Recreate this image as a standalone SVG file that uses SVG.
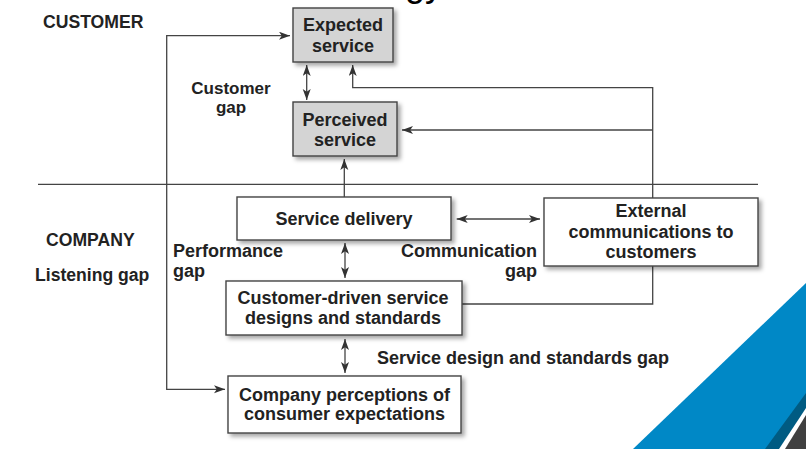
<svg xmlns="http://www.w3.org/2000/svg" width="806" height="449" viewBox="0 0 806 449">
<style>
text{font-family:"Liberation Sans",Arial,Helvetica,sans-serif;font-weight:bold;fill:#222;}
.t18{font-size:18px;}
.t17{font-size:17px;}
.t175{font-size:17.6px;}
.mid{text-anchor:middle;}
.end{text-anchor:end;}
.box{fill:#fff;stroke:#444;stroke-width:1.4;filter:url(#sh);}
.gbox{fill:#d4d4d4;stroke:#444;stroke-width:1.4;filter:url(#sh);}
.ln{fill:none;stroke:#444;stroke-width:1.3;}
.arr{marker-end:url(#ah);}
.dbl{marker-start:url(#ah);marker-end:url(#ah);}
</style>
<defs>
<filter id="sh" x="-10%" y="-10%" width="130%" height="140%">
<feDropShadow dx="3" dy="3" stdDeviation="2" flood-color="#000" flood-opacity="0.35"/>
</filter>
<marker id="ah" markerUnits="userSpaceOnUse" markerWidth="12" markerHeight="9" refX="11" refY="4" orient="auto-start-reverse">
<path d="M0,0 L11,4 L0,8 L2.8,4 z" fill="#333"/>
</marker>
</defs>
<rect width="806" height="449" fill="#fff"/>
<text x="405" y="-4" style="font-family:'Liberation Sans',Arial,sans-serif;font-weight:normal;font-size:36px;fill:#000">gy</text>
<g id="labels">
<text class="t175" x="43" y="28">CUSTOMER</text>
<text class="t17 mid" x="231" y="94">Customer</text>
<text class="t17 mid" x="231" y="113">gap</text>
<text class="t175" x="46" y="246">COMPANY</text>
<text class="t175" x="35" y="281">Listening gap</text>
<text class="t18" x="173" y="257">Performance</text>
<text class="t18" x="173" y="277">gap</text>
<text class="t18 end" x="537" y="257">Communication</text>
<text class="t18 end" x="537" y="277">gap</text>
<text class="t18" x="377" y="364">Service design and standards gap</text>
</g>
<g id="divider"><path class="ln" d="M38,184.3 H758"/></g>
<g id="connectors">
<path class="ln dbl" d="M290,35.7 H166.7 V389.3 H225"/>
<path class="ln arr" d="M652.7,198 V87.7 H352.7 V65"/>
<path class="ln arr" d="M652.7,130 H402"/>
<path class="ln arr" d="M344.3,197 V159"/>
<path class="ln dbl" d="M306.7,65 V100"/>
<path class="ln dbl" d="M456.7,219 H540"/>
<path class="ln dbl" d="M345,243 V278"/>
<path class="ln dbl" d="M345,339 V373"/>
<path class="ln" d="M652.7,266 V304 H462"/>
</g>
<g id="expected">
<rect class="gbox" x="293" y="8" width="100" height="54"/>
<text class="t18 mid" x="343" y="31">Expected</text>
<text class="t18 mid" x="343" y="52">service</text>
</g>
<g id="perceived">
<rect class="gbox" x="293" y="102" width="104" height="54"/>
<text class="t18 mid" x="345" y="125.5">Perceived</text>
<text class="t18 mid" x="345" y="146">service</text>
</g>
<g id="service-delivery">
<rect class="box" x="237" y="197" width="214" height="43"/>
<text class="t18 mid" x="344" y="225">Service delivery</text>
</g>
<g id="external">
<rect class="box" x="544" y="198" width="214" height="68"/>
<text class="t18 mid" x="651" y="217">External</text>
<text class="t18 mid" x="651" y="237.5">communications to</text>
<text class="t18 mid" x="651" y="257.5">customers</text>
</g>
<g id="customer-driven">
<rect class="box" x="226" y="281" width="236" height="54"/>
<text class="t18 mid" x="343" y="304">Customer-driven service</text>
<text class="t18 mid" x="343" y="324">designs and standards</text>
</g>
<g id="company-perceptions">
<rect class="box" x="228" y="376" width="233" height="57"/>
<text class="t18 mid" x="344.5" y="400.5">Company perceptions of</text>
<text class="t18 mid" x="344.5" y="420">consumer expectations</text>
</g>
<g id="corner">
<polygon points="633,449 806,283 806,449" fill="#0088c6"/>
<polygon points="765,449 806,393 806,449" fill="#005b82"/>
<polygon points="779,449 806,408 806,449" fill="#ffffff"/>
<polygon points="785,449 806,415 806,449" fill="#404040"/>
</g>
</svg>
